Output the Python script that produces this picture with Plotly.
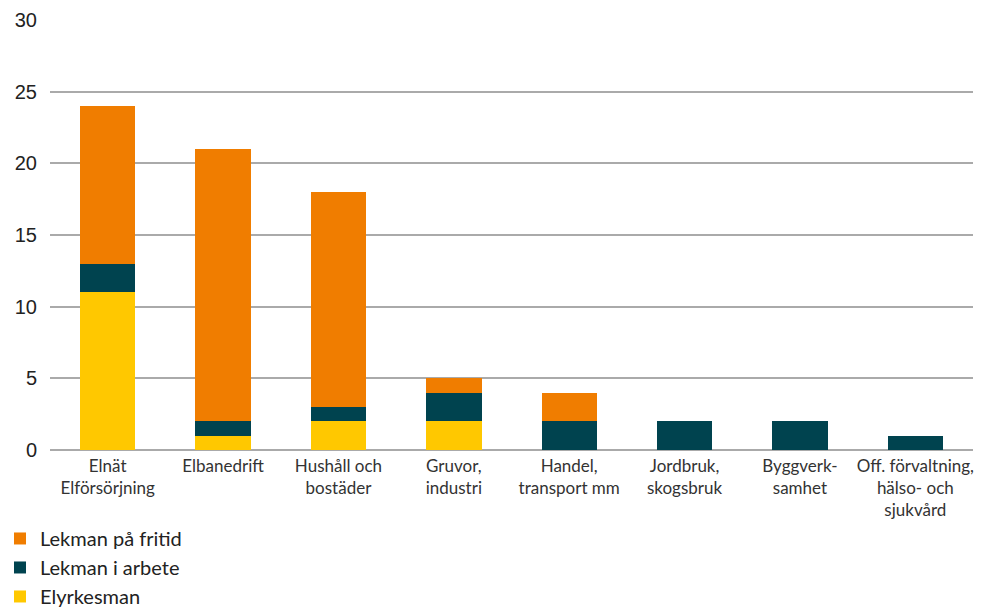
import plotly.graph_objects as go

categories = ["Elnät<br>Elförsörjning", "Elbanedrift", "Hushåll och<br>bostäder",
              "Gruvor,<br>industri", "Handel,<br>transport mm", "Jordbruk,<br>skogsbruk",
              "Byggverk-<br>samhet", "Off. förvaltning,<br>hälso- och<br>sjukvård"]
elyrkesman = [11, 1, 2, 2, 0, 0, 0, 0]
lekman_arbete = [2, 1, 1, 2, 2, 2, 2, 1]
lekman_fritid = [11, 19, 15, 1, 2, 0, 0, 0]
y_ticks = [0, 5, 10, 15, 20, 25, 30]

fig = go.Figure()
fig.add_trace(go.Bar(x=categories, y=elyrkesman, name="Elyrkesman", marker_color="#FFC800", marker_line_width=0))
fig.add_trace(go.Bar(x=categories, y=lekman_arbete, name="Lekman i arbete", marker_color="#00434F", marker_line_width=0))
fig.add_trace(go.Bar(x=categories, y=lekman_fritid, name="Lekman på fritid", marker_color="#F07D00", marker_line_width=0))

fig.update_layout(
    barmode="stack",
    bargap=0.52,
    width=984, height=612,
    margin=dict(l=50, r=11, t=20, b=162, autoexpand=False),
    plot_bgcolor="white", paper_bgcolor="white",
    font=dict(family="Lato, Open Sans, sans-serif", color="#333333", size=17),
    legend=dict(
        traceorder="reversed",
        xref="container", yref="container",
        x=0.0, y=0.152, xanchor="left", yanchor="top",
        font=dict(size=20, color="#222222"),
        itemwidth=30, tracegroupgap=0,
    ),
    showlegend=True,
)
fig.update_xaxes(showgrid=False, showline=False, ticks="", tickfont=dict(size=17, color="#333333"),
                 ticklabelstandoff=4)
fig.update_yaxes(range=[0, 30], tickvals=y_ticks, showgrid=True, gridcolor="#aaaaaa", gridwidth=2,
                 zeroline=True, zerolinecolor="#aaaaaa", zerolinewidth=2,
                 tickfont=dict(family="Liberation Sans, Arial, sans-serif", size=20, color="#222222"),
                 ticklabelstandoff=12)

fig.write_html("out.html")
